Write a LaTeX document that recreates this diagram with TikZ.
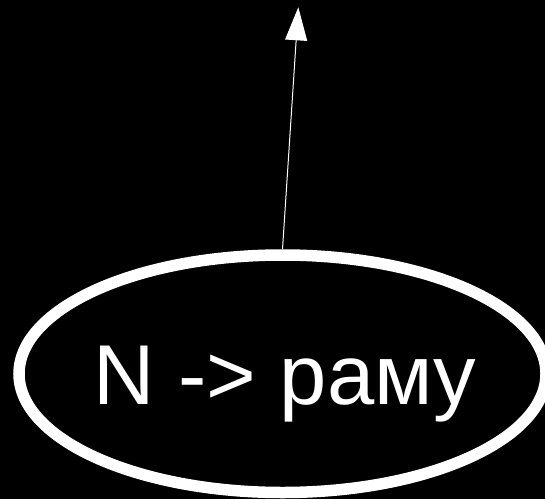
\documentclass[tikz,border=0pt]{standalone}
\usepackage{fontspec}
\setmainfont{Liberation Sans}
\usetikzlibrary{shapes.geometric,arrows.meta}
\begin{document}
\begin{tikzpicture}[x=1pt,y=1pt,
  statebox/.style={draw=white,line width=11.5pt,ellipse,minimum width=527pt,minimum height=237.5pt,inner sep=0pt},
  labeltext/.style={text=white,font=\fontsize{85}{100}\selectfont,inner sep=0pt,anchor=base},
  conn/.style={draw=white,line width=1pt,-{Triangle[length=33pt,width=22pt]}}]
\fill[black] (0,0) rectangle (545,499);
\useasboundingbox (0,0) rectangle (545,499);
\node[statebox] (e) at (282.5,125.25) {};
\node[labeltext] (lbl) at (285,95) {N -> раму};
\coordinate (tip) at (298.3,491.7);
\draw[conn] (e.north) -- (tip);
\end{tikzpicture}
\end{document}
